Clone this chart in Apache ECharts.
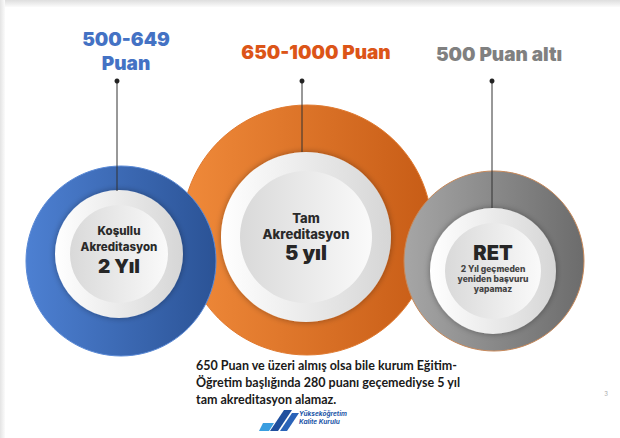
<!DOCTYPE html>
<html>
<head>
<meta charset="utf-8">
<script src="https://cdn.jsdelivr.net/npm/echarts@6/dist/echarts.min.js"></script>
<style>
html,body{margin:0;padding:0;background:#fff;}
#main{width:620px;height:438px;}
</style>
</head>
<body>
<div id="main"></div>
<script>
// content of the slide
var scoreRanges = ['500-649\nPuan', '650-1000 Puan', '500 Puan altı'];
var outcomes = ['Koşullu\nAkreditasyon', 'Tam\nAkreditasyon', 'RET'];
var durations = ['2 Yıl', '5 yıl', '2 Yıl geçmeden\nyeniden başvuru\nyapamaz'];
var noteLines = [
	'650 Puan ve üzeri almış olsa bile kurum Eğitim-',
	'Öğretim başlığında 280 puanı geçemediyse 5 yıl',
	'tam akreditasyon alamaz.'
];
var logoLines = ['Yükseköğretim', 'Kalite Kurulu'];
var pageNo = '3';

// layout of the three circles (drawing order: orange under blue and gray)
var layout = [
	{idx: 1, ring: [307, 230], R: 125, disc: [306, 237], r: 85, ri: 66, lineX: 302, lineEnd: 152, head: [316, 52], headColor: '#dc5518',
		ringColors: ['#f08a3a', '#c75c16'], border: '#e07a30', mid: 13.5, big: 20},
	{idx: 0, ring: [121, 261], R: 95, disc: [119, 254], r: 64, ri: 49, lineX: 117, lineEnd: 191, head: [126, 51], headColor: '#4472c4',
		ringColors: ['#4d80d2', '#2b5396'], border: '#5b8ad6', mid: 12, big: 19},
	{idx: 2, ring: [494, 261], R: 90, disc: [493, 271], r: 63, ri: 48, lineX: 492, lineEnd: 208, head: [499, 54], headColor: '#808080',
		ringColors: ['#a6a6a6', '#6c6c6c'], border: '#c8895a', mid: 12, big: 20}
];

function grad(c1, c2) {
	return new echarts.graphic.LinearGradient(0, 0, 1, 0, [
		{offset: 0, color: c1}, {offset: 1, color: c2}
	]);
}

function labelText(i) {
	if (i === 2) {
		return '{big|' + outcomes[i] + '}\n' + durations[i].split('\n').map(function (s) {
			return '{small|' + s + '}';
		}).join('\n');
	}
	return outcomes[i].split('\n').map(function (s) {
		return '{mid|' + s + '}';
	}).join('\n') + '\n{big|' + durations[i] + '}';
}

var series = [];
layout.forEach(function (L) {
	var i = L.idx;
	// colored ring
	series.push({
		type: 'pie', silent: true, animation: false,
		center: L.ring, radius: [0, L.R],
		label: {show: false}, labelLine: {show: false},
		itemStyle: {color: grad(L.ringColors[0], L.ringColors[1]), borderColor: L.border, borderWidth: 1},
		data: [{value: 1, name: outcomes[i]}]
	});
	// white rim
	series.push({
		type: 'pie', silent: true, animation: false,
		center: L.disc, radius: [0, L.r],
		label: {show: false}, labelLine: {show: false},
		itemStyle: {color: grad('#ffffff', '#d6d6d6'), shadowBlur: 6, shadowColor: 'rgba(0,0,0,0.35)'},
		data: [{value: 1, name: outcomes[i]}]
	});
	// inner disc with text
	series.push({
		type: 'pie', silent: true, animation: false,
		center: L.disc, radius: [0, L.ri],
		labelLine: {show: false},
		itemStyle: {color: grad('#d9d9d9', '#fafafa')},
		label: {
			show: true, position: 'center',
			formatter: labelText(i),
			fontFamily: 'Inter', fontWeight: 900, color: '#222',
			padding: i === 0 ? [0, 0, 8, 0] : (i === 2 ? [0, 0, 6, 0] : 0),
			rich: {
				mid: {fontFamily: 'Inter', fontWeight: 800, fontSize: L.mid - 0.5, lineHeight: 16, color: '#2a2a2a'},
				big: {fontFamily: 'Inter', fontWeight: 900, fontSize: L.big, lineHeight: 22, color: '#262626'},
				small: {fontFamily: 'Inter', fontWeight: 800, fontSize: 8.5, lineHeight: 10, color: '#444'}
			}
		},
		data: [{value: 1, name: outcomes[i]}]
	});
});

var graphics = [
	{type: 'rect', shape: {x: 0, y: 0, width: 620, height: 7}, z: 1,
		style: {fill: new echarts.graphic.LinearGradient(0, 0, 0, 1, [{offset: 0, color: '#dedede'}, {offset: 1, color: '#fbfbfb'}])}},
	{type: 'rect', shape: {x: 0, y: 0, width: 5, height: 438}, z: 1,
		style: {fill: new echarts.graphic.LinearGradient(0, 0, 1, 0, [{offset: 0, color: '#e4e4e4'}, {offset: 1, color: '#fbfbfb'}])}}
];

layout.forEach(function (L) {
	graphics.push({type: 'line', z: 10, shape: {x1: L.lineX, y1: 81, x2: L.lineX, y2: L.lineEnd},
		style: {stroke: '#333', lineWidth: 1}});
	graphics.push({type: 'circle', z: 10, shape: {cx: L.lineX, cy: 81, r: 2.5}, style: {fill: '#222'}});
	graphics.push({type: 'text', z: 10, x: L.head[0], y: L.head[1],
		style: {text: scoreRanges[L.idx], fill: L.headColor, font: '900 19px Inter', lineHeight: 24,
			textAlign: 'center', textVerticalAlign: 'middle', align: 'center', verticalAlign: 'middle'}});
});

graphics.push({type: 'text', z: 10, x: 196, y: 357,
	style: {text: noteLines.join('\n'), fill: '#1a1a1a', font: 'bold 12.5px Lato', lineHeight: 17,
		textAlign: 'left', textVerticalAlign: 'top', align: 'left', verticalAlign: 'top'}});

// logo
graphics.push({type: 'polygon', z: 10, shape: {points: [[259, 431], [269, 431], [274, 423], [263, 423]]}, style: {fill: '#3a9ee0'}});
graphics.push({type: 'polygon', z: 10, shape: {points: [[270, 431], [278, 431], [292, 410], [284, 410]]}, style: {fill: '#1f4f9e'}});
graphics.push({type: 'polygon', z: 10, shape: {points: [[280, 431], [287, 431], [299, 413], [292, 413]]}, style: {fill: '#2a63b8'}});
graphics.push({type: 'text', z: 10, x: 299, y: 410,
	style: {text: logoLines.join('\n'), fill: '#2456a8', font: 'italic bold 6.5px Inter', lineHeight: 8,
		textAlign: 'left', textVerticalAlign: 'top', align: 'left', verticalAlign: 'top'}});
graphics.push({type: 'text', z: 10, x: 606, y: 393,
	style: {text: pageNo, fill: '#aaa', font: '6px Inter', textAlign: 'center', textVerticalAlign: 'middle', align: 'center', verticalAlign: 'middle'}});

var myChart = echarts.init(document.getElementById('main'), null, {renderer: 'svg'});
myChart.setOption({
	backgroundColor: '#ffffff',
	animation: false,
	series: series,
	graphic: graphics
});
</script>
</body>
</html>
